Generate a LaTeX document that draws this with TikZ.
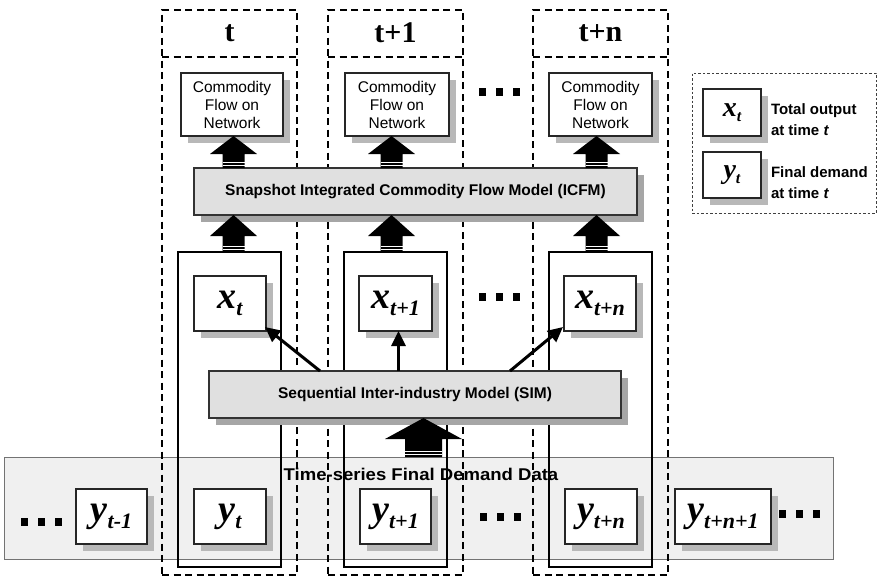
\documentclass[tikz,border=0pt]{standalone}
\usepackage{fontspec}
\setmainfont{Liberation Serif}
\setsansfont{Liberation Sans}
\usetikzlibrary{arrows.meta,calc,shadows}

% variable with subscript, e.g. \vr{x}{t+1}{7}
\newcommand\vr[3]{{\fontsize{38}{38}\selectfont\rmfamily\bfseries\itshape #1}%
  \raisebox{-#3pt}{\fontsize{22}{22}\selectfont\rmfamily\bfseries\itshape #2}}
\newcommand\vrs[3]{{\fontsize{28}{28}\selectfont\rmfamily\bfseries\itshape #1}%
  \raisebox{-#3pt}{\fontsize{16}{16}\selectfont\rmfamily\bfseries\itshape #2}}

% thick upward block arrow: tip, base, head half width, shaft half width, head length
\newcommand\blockarrow[5]{%
  \fill[black] let \p1=#1, \p2=#2 in
    (\x1,\y1) -- (\x1+#3pt,\y1-#5pt) -- (\x1+#4pt,\y1-#5pt) -- (\x1+#4pt,\y2)
    -- (\x1-#4pt,\y2) -- (\x1-#4pt,\y1-#5pt) -- (\x1-#3pt,\y1-#5pt) -- cycle;
  \draw[white,line width=0.8pt] let \p1=#1, \p2=#2 in
    (\x1-#4pt,\y2+3pt) -- (\x1+#4pt,\y2+3pt)
    (\x1-#4pt,\y2+5.5pt) -- (\x1+#4pt,\y2+5.5pt);
}

% row of three black squares centred on a point
\newcommand\sqrow[2]{%
  \foreach \d in {-17,0,17}{\fill[black] (#1+\d-3.5,#2-4) rectangle ++(7,8);}
}

\tikzset{
  every node/.style={inner sep=0pt, outer sep=0pt},
  colframe/.style={draw=black, line width=1.6pt, dash pattern=on 7pt off 4.5pt},
  periodbox/.style={draw=black, line width=1.5pt},
  plainbox/.style={draw=black!85, line width=1.2pt, fill=white,
    drop shadow={shadow xshift=7pt, shadow yshift=-7pt, fill=black!28, opacity=1}},
  modelbox/.style={draw=black!80, line width=1.2pt, fill=black!12,
    drop shadow={shadow xshift=7pt, shadow yshift=-7pt, fill=black!35, opacity=1},
    font=\sffamily\bfseries\fontsize{15.5}{18}\selectfont},
  flowtext/.style={font=\sffamily\fontsize{15.5}{18}\selectfont, align=center},
  header/.style={font=\rmfamily\bfseries\fontsize{30}{30}\selectfont},
  thinarrow/.style={line width=3pt, -{Triangle[length=15pt,width=14pt]}},
  legtext/.style={font=\sffamily\bfseries\fontsize{15}{21}\selectfont, align=left, anchor=west},
}

\begin{document}
\begin{tikzpicture}[x=1pt,y=-1pt]
\useasboundingbox (0,0) rectangle (879,576);
\fill[white] (0,0) rectangle (879,576);

% time-series band
\node[fill=black!6, draw=black!55, line width=1pt, minimum width=829pt, minimum height=102pt] (band) at (418.5,508) {};

% time period columns
\foreach \n/\cx/\lab in {1/229.5/t, 2/395.5/t+1, 3/600.5/t+n}{
  \node[colframe, minimum width=135pt, minimum height=565pt] (col\n) at (\cx,292.5) {};
  \draw[colframe] ($(col\n.north west)+(0,47)$) -- ($(col\n.north east)+(0,47)$);
  \node[header] (hd\n) at ($(col\n.north)+(0,23)$) {\lab};
  \node[periodbox, minimum width=103pt, minimum height=315pt] (per\n) at (\cx,409.5) {};
}

\node[font=\sffamily\bfseries\fontsize{17}{17}\selectfont] (bandlab) at (421,474) {\scalebox{1.09}[1]{Time-series Final Demand Data}};

% final demand boxes
\node[plainbox, minimum width=71pt, minimum height=55pt] (ym1) at (111.5,516.5) {\vr{y}{t-1}{7}};
\node[plainbox, minimum width=72pt, minimum height=55pt] (y0) at (230,516.5) {\vr{y}{t}{7}};
\node[plainbox, minimum width=71pt, minimum height=55pt] (y1) at (395.5,516.5) {\vr{y}{t+1}{7}};
\node[plainbox, minimum width=72pt, minimum height=55pt] (yn) at (601,516.5) {\vr{y}{t+n}{7}};
\node[plainbox, minimum width=96pt, minimum height=55pt] (yn1) at (723,516.5) {\vr{y}{t+n+1}{7}};

% total output boxes
\node[plainbox, minimum width=72pt, minimum height=55pt] (x1) at (230,303.5) {\vr{x}{t}{7}};
\node[plainbox, minimum width=73pt, minimum height=55pt] (x2) at (395.5,303.5) {\vr{x}{t+1}{7}};
\node[plainbox, minimum width=72pt, minimum height=55pt] (x3) at (600,303.5) {\vr{x}{t+n}{7}};

% commodity flow boxes
\node[plainbox, flowtext, minimum width=102pt, minimum height=63pt] (cf1) at (232,104.5) {Commodity\\Flow on\\Network};
\node[plainbox, flowtext, minimum width=104pt, minimum height=63pt] (cf2) at (397,104.5) {Commodity\\Flow on\\Network};
\node[plainbox, flowtext, minimum width=103pt, minimum height=63pt] (cf3) at (600.5,104.5) {Commodity\\Flow on\\Network};

% models
\node[modelbox, minimum width=443pt, minimum height=47pt] (icfm) at (415.5,191.5) {Snapshot Integrated Commodity Flow Model (ICFM)};
\node[modelbox, minimum width=412pt, minimum height=47pt] (sim) at (415,394.5) {Sequential Inter-industry Model (SIM)};

% block arrows
\coordinate (ax1) at (233.5,0);
\coordinate (ax2) at (391.5,0);
\coordinate (ax3) at (596.5,0);
\coordinate (ax0) at (423.5,0);
\blockarrow{(ax1|-cf1.south)}{(ax1|-icfm.north)}{23.5}{11}{18}
\blockarrow{(ax2|-cf2.south)}{(ax2|-icfm.north)}{23.5}{11}{18}
\blockarrow{(ax3|-cf3.south)}{(ax3|-icfm.north)}{23.5}{11}{18}
\blockarrow{(ax1|-icfm.south)}{(ax1|-per1.north)}{23.5}{11}{21}
\blockarrow{(ax2|-icfm.south)}{(ax2|-per2.north)}{23.5}{11}{21}
\blockarrow{(ax3|-icfm.south)}{(ax3|-per3.north)}{23.5}{11}{21}
\blockarrow{(ax0|-sim.south)}{(ax0|-band.north)}{38.5}{18.5}{21}

% SIM to total output
\coordinate (sx2) at (398.5,0);
\draw[thinarrow] ($(sim.north west)+(111,0)$) -- ($(x1.south east)+(-1,-4)$);
\draw[thinarrow] (sx2|-sim.north) -- (sx2|-x2.south);
\draw[thinarrow] ($(sim.north west)+(301,0)$) -- ($(x3.south west)+(-1,-4)$);

% continuation marks
\sqrow{499.5}{92}
\sqrow{499.5}{297}
\sqrow{41}{522}
\sqrow{500}{517}
\sqrow{799}{514}

% legend
\node[draw=black!75, line width=1pt, dash pattern=on 2.5pt off 2pt, minimum width=184pt, minimum height=140pt] (legend) at (784,143) {};
\node[plainbox, minimum width=58pt, minimum height=47pt] (lx) at (732,112.5) {\vrs{x}{t}{5}};
\node[plainbox, minimum width=58pt, minimum height=46pt] (ly) at (732,175) {\vrs{y}{t}{5}};
\node[legtext] (lxt) at (771,120) {Total output\\at time \textit{t}};
\node[legtext] (lyt) at (771,183) {Final demand\\at time \textit{t}};
\end{tikzpicture}
\end{document}
